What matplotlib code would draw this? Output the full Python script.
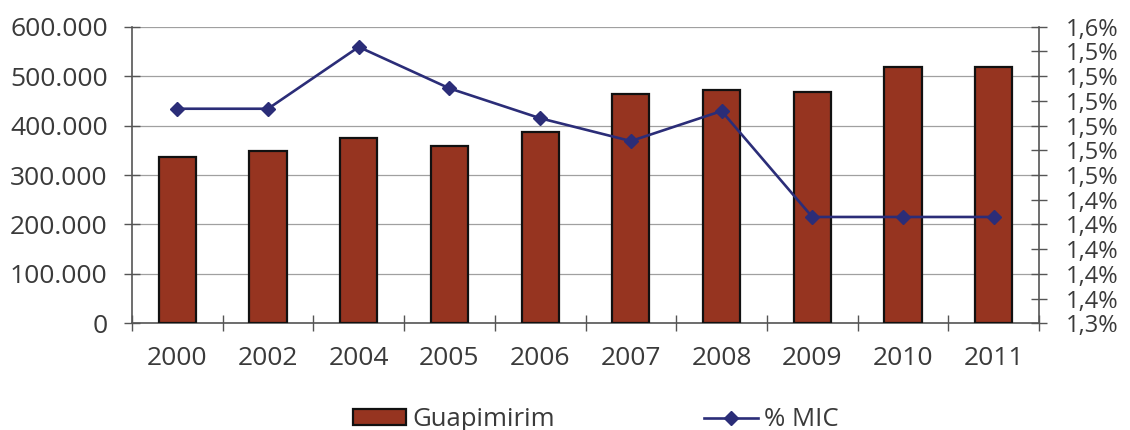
import matplotlib
matplotlib.use("Agg")
import matplotlib.pyplot as plt
from matplotlib.ticker import FuncFormatter, FixedLocator, MultipleLocator
from matplotlib.lines import Line2D
from matplotlib.patches import Patch
import numpy as np

years = ["2000", "2002", "2004", "2005", "2006", "2007", "2008", "2009", "2010", "2011"]
guapimirim = [336000, 348000, 374000, 358500, 388000, 463000, 471000, 467000, 519000, 518500]
pct_mic = [1.5000, 1.5000, 1.5455, 1.5150, 1.4930, 1.4762, 1.4983, 1.4203, 1.4203, 1.4203]
right_min, right_step, right_n = 1.342, 0.0182, 12

plt.rcParams['font.family'] = ['Open Sans', 'DejaVu Sans']
txt = '#3a3a3a'
bar_color = '#963420'
line_color = '#2b2d78'
axis_col = '#555555'

fig = plt.figure(figsize=(11.3, 4.3), dpi=100)
ax = fig.add_axes([0.1168, 0.2481, 0.9195 - 0.1168, 0.9379 - 0.2481])
x = np.arange(len(years))
ax.bar(x, guapimirim, width=0.41, color=bar_color, edgecolor='#111111', linewidth=1.6, zorder=3)
ax.set_xlim(-0.5, len(years) - 0.5)
ax.set_ylim(0, 600000)
ax.yaxis.set_major_locator(MultipleLocator(100000))
ax.yaxis.set_major_formatter(FuncFormatter(lambda v, p: f"{int(v):,}".replace(",", ".")))
ax.grid(axis='y', color='#a0a0a0', linewidth=0.9, zorder=0)
ax.set_axisbelow(True)
ax.set_xticks(x)
ax.set_xticklabels(years)
ax.xaxis.set_minor_locator(FixedLocator(np.arange(-0.5, len(years), 1.0)))
ax.tick_params(axis='x', which='major', length=0, pad=16, labelsize=19, labelcolor=txt)
ax.tick_params(axis='x', which='minor', direction='inout', length=11, width=1, color=axis_col)
ax.tick_params(axis='y', which='major', direction='inout', length=11, width=1, color=axis_col,
               labelsize=19, labelcolor=txt, pad=12)
for s in ['top', 'right']:
    ax.spines[s].set_visible(False)
for s in ['left', 'bottom']:
    ax.spines[s].set_color(axis_col)
    ax.spines[s].set_linewidth(1.2)

ax2 = ax.twinx()
ax2.plot(x, pct_mic, color=line_color, linewidth=1.9, marker='D', markersize=6.8, zorder=5)
ax2.set_ylim(right_min, right_min + right_step * right_n)
ax2.yaxis.set_major_locator(FixedLocator([right_min + k * right_step for k in range(right_n + 1)]))
ax2.yaxis.set_major_formatter(FuncFormatter(lambda v, p: f"{v:.1f}".replace(".", ",") + "%"))
ax2.tick_params(axis='y', direction='inout', length=11, width=1, color=axis_col,
                labelsize=17, labelcolor=txt, pad=14)
for s in ['top', 'left', 'bottom']:
    ax2.spines[s].set_visible(False)
ax2.spines['right'].set_color(axis_col)
ax2.spines['right'].set_linewidth(1.2)

handles = [Patch(facecolor=bar_color, edgecolor='#111111', linewidth=1.6, label='Guapimirim'),
           Line2D([0], [0], color=line_color, linewidth=1.9, marker='D', markersize=6.8, label='% MIC')]
fig.legend(handles=handles, loc='center', bbox_to_anchor=(0.527, 0.024), ncol=2, frameon=False,
           fontsize=18.5, handlelength=2.1, handleheight=0.6, handletextpad=0.23, columnspacing=5.8,
           labelcolor=txt)

fig.savefig("out.png", dpi=100)
